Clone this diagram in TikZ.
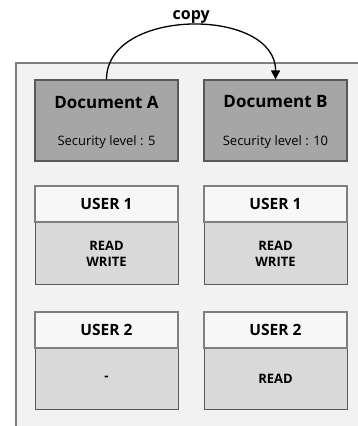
\documentclass[tikz,border=0pt]{standalone}
\usepackage{fontspec}
\setmainfont{Open Sans}
\usetikzlibrary{arrows.meta}
\definecolor{framefill}{HTML}{F2F2F2}
\definecolor{frameline}{HTML}{7F7F7F}
\definecolor{docfill}{HTML}{A6A6A6}
\definecolor{boxline}{HTML}{595959}
\definecolor{bodyfill}{HTML}{D9D9D9}
\definecolor{headfill}{HTML}{F7F7F7}
\tikzset{
  docbox/.style={draw=boxline, line width=1.2pt, fill=docfill, minimum width=143pt, minimum height=81pt, inner sep=0pt},
  headbox/.style={draw=frameline, line width=2pt, fill=headfill, minimum width=143pt, minimum height=36pt, inner sep=0pt, font=\fontsize{15.5}{17}\selectfont\bfseries},
  bodybox/.style={draw=boxline, line width=1pt, fill=bodyfill, minimum width=143pt, minimum height=62pt, inner sep=0pt, align=center, font=\fontsize{13}{16}\selectfont\bfseries},
  titletext/.style={inner sep=0pt, font=\fontsize{17}{19}\selectfont\bfseries},
  subtext/.style={inner sep=0pt, font=\fontsize{13}{15}\selectfont},
}
\begin{document}
\begin{tikzpicture}[x=1pt,y=-1pt]
\useasboundingbox (0,0) rectangle (358,426);
\begin{scope}
\clip (0,0) rectangle (358,426);
\draw[draw=frameline, line width=2.5pt, fill=framefill] (16,63) rectangle (380,450);
\end{scope}
% documents
\node[docbox] (docA) at (106.5,120.5) {};
\node[docbox] (docB) at (275.5,120.5) {};
\node[titletext] (tA) at (106.5,102) {Document A};
\node[titletext] (tB) at (275.5,102) {Document B};
\node[subtext] (sA) at (106.5,142) {Security level : 5};
\node[subtext] (sB) at (275.5,142) {Security level : 10};
% user 1
\node[bodybox] (b1A) at (106.5,253.5) {READ\\WRITE};
\node[bodybox] (b1B) at (275.5,253.5) {READ\\WRITE};
\node[headbox] (h1A) at (106.5,204) {USER 1};
\node[headbox] (h1B) at (275.5,204) {USER 1};
% user 2
\node[bodybox] (b2A) at (106.5,378.5) {-};
\node[bodybox] (b2B) at (275.5,378.5) {READ};
\node[headbox] (h2A) at (106.5,329.5) {USER 2};
\node[headbox] (h2B) at (275.5,329.5) {USER 2};
% copy arrow
\draw[line width=1.3pt, -{Triangle[length=9pt,width=9pt]}] (docA.north) .. controls (106.5,7) and (276,7) .. node[above=0pt, inner sep=1pt, font=\fontsize{16}{18}\selectfont\bfseries] (copyl) {copy} (docB.north);
\end{tikzpicture}
\end{document}
